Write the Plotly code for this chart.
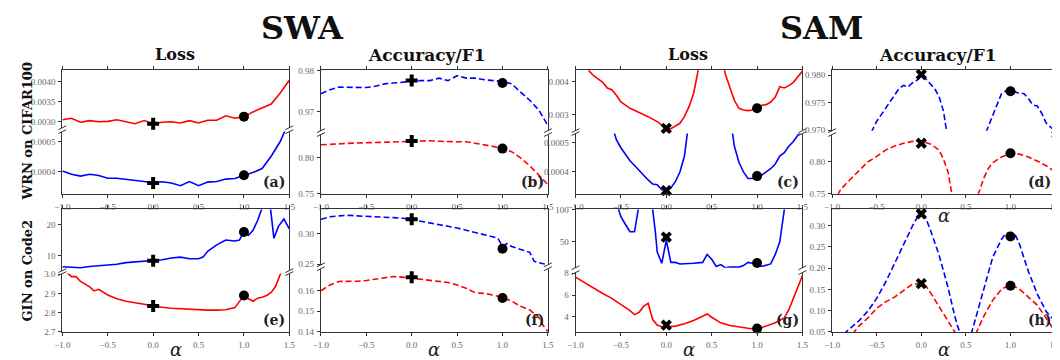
import plotly.graph_objects as go

# ---------------- data ----------------
X_TICKS = [-1.0, -0.5, 0.0, 0.5, 1.0, 1.5]
X_TICK_LABELS = ["\u22121.0", "\u22120.5", "0.0", "0.5", "1.0", "1.5"]

GRID10 = [-1.0, -0.9, -0.8, -0.7, -0.6, -0.5, -0.4, -0.3, -0.2, -0.1, 0.0, 0.1, 0.2,
          0.3, 0.4, 0.5, 0.6, 0.7, 0.8, 0.9, 1.0, 1.1, 1.2, 1.3, 1.4, 1.5]

# (a) SWA loss, WRN/CIFAR100
A_RED = [0.00304, 0.00308, 0.00298, 0.00302, 0.00299, 0.00300, 0.00304, 0.00299, 0.00294, 0.00302,
         0.00294, 0.00298, 0.00299, 0.00296, 0.00302, 0.00296, 0.00303, 0.00303, 0.00314, 0.00308,
         0.00312, 0.00324, 0.00334, 0.00344, 0.00372, 0.00404]
A_BLUE = [0.000402, 0.000391, 0.000385, 0.000391, 0.000387, 0.000378, 0.000378, 0.000375, 0.000370, 0.000367,
          0.000363, 0.000366, 0.000362, 0.000353, 0.000367, 0.000353, 0.000365, 0.000367, 0.000375, 0.000377,
          0.000388, 0.000397, 0.000410, 0.000451, 0.000500, 0.000570]
A_RED_MARK = [0.00294, 0.00312]
A_BLUE_MARK = [0.000362, 0.000388]

# (b) SWA accuracy, WRN/CIFAR100
B_BLUE = [0.9744, 0.97536, 0.9760, 0.9760, 0.9759, 0.9759, 0.9762, 0.9768, 0.9770, 0.9772,
          0.9774, 0.9776, 0.9776, 0.9782, 0.9776, 0.9788, 0.9782, 0.9782, 0.9778, 0.9776,
          0.9774, 0.9768, 0.9748, 0.9728, 0.9704, 0.9666]
B_RED = [0.8183, 0.8192, 0.8200, 0.8205, 0.8209, 0.8211, 0.8213, 0.8218, 0.8222, 0.8226,
         0.8230, 0.8235, 0.8239, 0.8232, 0.8226, 0.8226, 0.8226, 0.8205, 0.8183, 0.8160,
         0.8130, 0.8087, 0.8000, 0.7891, 0.7761, 0.7630]
B_BLUE_MARK = [0.9776, 0.9770]
B_RED_MARK = [0.8235, 0.8130]

# (c) SAM loss, WRN/CIFAR100
C_RED_X = [-0.87, -0.85, -0.8, -0.75, -0.7, -0.65, -0.6, -0.55, -0.5, -0.4, -0.3, -0.2, -0.1, -0.05,
           0.0, 0.05, 0.1, 0.15, 0.2, 0.25, 0.3, 0.35, 0.37, None,
           0.62, 0.65, 0.7, 0.75, 0.8, 0.85, 0.9, 0.95, 1.0, 1.05, 1.1, 1.15, 1.2, 1.25, 1.3, 1.35,
           1.4, 1.45, 1.5]
C_RED = [0.00445, 0.00432, 0.00418, 0.00408, 0.00398, 0.00381, 0.00376, 0.00359, 0.00339, 0.00320,
         0.00308, 0.00295, 0.00280, 0.00271, 0.00260, 0.00259, 0.00266, 0.00275, 0.00295, 0.00325,
         0.00364, 0.00432, 0.00460, None,
         0.00460, 0.00423, 0.00383, 0.00344, 0.00320, 0.00315, 0.00313, 0.00315, 0.00320, 0.00329,
         0.00331, 0.00339, 0.00354, 0.00385, 0.00381, 0.00388, 0.00398, 0.00415, 0.00432]
C_BLUE_X = [-0.58, -0.55, -0.5, -0.45, -0.4, -0.35, -0.3, -0.25, -0.2, -0.15, -0.1, -0.05, 0.0,
            0.05, 0.1, 0.15, 0.2, 0.24, None,
            0.72, 0.75, 0.8, 0.85, 0.9, 0.95, 1.0, 1.05, 1.1, 1.15, 1.2, 1.25, 1.3, 1.35, 1.4,
            1.45, 1.5]
C_BLUE = [0.000540, 0.000509, 0.000482, 0.000460, 0.000438, 0.000422, 0.000405, 0.000391, 0.000373,
          0.000359, 0.000357, 0.000340, 0.000340, 0.000346, 0.000367, 0.000400, 0.000454, 0.000550, None,
          0.000550, 0.000487, 0.000433, 0.000400, 0.000378, 0.000378, 0.000387, 0.000389, 0.000400,
          0.000411, 0.000427, 0.000454, 0.000465, 0.000487, 0.000503, 0.000525, 0.000540]
C_RED_MARK = [0.00260, 0.00320]
C_BLUE_MARK = [0.000337, 0.000386]

# (d) SAM accuracy, WRN/CIFAR100
D_BLUE_X = [-0.56, -0.5, -0.45, -0.4, -0.35, -0.3, -0.25, -0.2, -0.15, -0.1, -0.05, 0.0, 0.05, 0.1,
            0.15, 0.2, 0.25, 0.285, None,
            0.725, 0.8, 0.85, 0.9, 0.95, 1.0, 1.05, 1.1, 1.15, 1.2, 1.25, 1.3, 1.35, 1.4, 1.45, 1.5]
D_BLUE = [0.9696, 0.97159, 0.97278, 0.97398, 0.97518, 0.97638, 0.97757, 0.97817, 0.97787, 0.97859,
          0.97907, 0.97997, 0.97937, 0.97847, 0.97757, 0.97608, 0.97338, 0.9696, None,
          0.9696, 0.97278, 0.97488, 0.97668, 0.97716, 0.97710, 0.97698, 0.97668, 0.97668, 0.97578,
          0.97458, 0.97440, 0.97308, 0.97129, 0.97057, 0.96980]
D_RED_X = [-0.94, -0.9, -0.8, -0.7, -0.6, -0.5, -0.4, -0.3, -0.2, -0.1, 0.0, 0.1, 0.2, 0.25, 0.3,
           0.345, None,
           0.635, 0.7, 0.75, 0.8, 0.9, 1.0, 1.1, 1.2, 1.3, 1.4, 1.5]
D_RED = [0.748, 0.7574, 0.7721, 0.7868, 0.8000, 0.8088, 0.8186, 0.8250, 0.8294, 0.8324, 0.8324,
         0.8284, 0.8186, 0.8039, 0.7843, 0.748, None,
         0.748, 0.7745, 0.7892, 0.7990, 0.8078, 0.8137, 0.8123, 0.8078, 0.8015, 0.7941, 0.7843]
D_BLUE_MARK = [0.98015, 0.9771]
D_RED_MARK = [0.8294, 0.8137]

# (e) SWA loss, GIN/Code2
E_BLUE_X = [-1.0, -0.9, -0.8, -0.7, -0.6, -0.5, -0.4, -0.3, -0.2, -0.1, 0.0, 0.1, 0.2, 0.3, 0.4,
            0.5, 0.55, 0.6, 0.7, 0.8, 0.9, 0.95, 1.0, 1.05, 1.1, 1.15, 1.2, 1.25, 1.29, 1.33, 1.38,
            1.44, 1.5]
E_BLUE = [6.32, 6.10, 6.00, 6.42, 6.63, 6.84, 7.16, 7.68, 7.90, 8.10, 8.32, 8.63, 9.16, 9.47, 8.95,
          8.95, 9.47, 11.37, 13.47, 15.05, 14.74, 15.05, 17.68, 16.60, 18.20, 21.40, 25.50, 32.0,
          26.0, 15.60, 19.50, 21.90, 18.70]
E_RED_X = [-1.0, -0.93, -0.9, -0.85, -0.8, -0.7, -0.65, -0.6, -0.55, -0.5, -0.4, -0.3, -0.2, -0.1,
           0.0, 0.1, 0.2, 0.3, 0.4, 0.5, 0.6, 0.7, 0.8, 0.9, 0.95, 1.0, 1.05, 1.1, 1.15, 1.2, 1.25,
           1.3, 1.35, 1.4, 1.45]
E_RED = [3.03, 3.00, 2.987, 2.987, 2.962, 2.934, 2.913, 2.921, 2.905, 2.892, 2.872, 2.859, 2.851,
         2.843, 2.834, 2.828, 2.823, 2.820, 2.816, 2.813, 2.813, 2.813, 2.815, 2.826, 2.856, 2.889,
         2.872, 2.859, 2.875, 2.880, 2.889, 2.905, 2.938, 3.000, 3.060]
E_BLUE_MARK = [8.32, 17.68]
E_RED_MARK = [2.834, 2.889]

# (f) SWA F1, GIN/Code2
F_BLUE_X = [-1.0, -0.9, -0.8, -0.7, -0.6, -0.5, -0.4, -0.3, -0.2, -0.1, 0.0, 0.1, 0.2, 0.3, 0.4,
            0.5, 0.6, 0.7, 0.8, 0.9, 0.95, 1.0, 1.05, 1.1, 1.2, 1.3, 1.35, 1.4, 1.5]
F_BLUE = [0.3245, 0.3284, 0.3299, 0.3309, 0.3299, 0.3294, 0.3284, 0.3275, 0.3270, 0.3260, 0.3245,
          0.3211, 0.3186, 0.3162, 0.3127, 0.3098, 0.3064, 0.3029, 0.2990, 0.2951, 0.2926, 0.2794,
          0.2843, 0.2794, 0.2745, 0.2696, 0.2549, 0.2524, 0.2490]
F_RED_X = [-1.0, -0.9, -0.8, -0.7, -0.6, -0.5, -0.4, -0.3, -0.2, -0.1, 0.0, 0.1, 0.2, 0.3, 0.4,
           0.5, 0.6, 0.7, 0.8, 0.9, 1.0, 1.1, 1.2, 1.3, 1.4, 1.45, 1.5]
F_RED = [0.1600, 0.1628, 0.1645, 0.1645, 0.1646, 0.1650, 0.1656, 0.1663, 0.1669, 0.1666, 0.1661,
         0.1656, 0.1650, 0.1645, 0.1640, 0.1628, 0.1612, 0.1590, 0.1587, 0.1579, 0.1567, 0.1550,
         0.1524, 0.1507, 0.1471, 0.1430, 0.1402]
F_BLUE_MARK = [0.3245, 0.2755]
F_RED_MARK = [0.1666, 0.1565]

# (g) SAM loss, GIN/Code2
G_BLUE_X = [-0.56, -0.53, -0.5, -0.45, -0.4, -0.35, -0.33, -0.3, -0.2, -0.15, -0.12, -0.1, -0.05,
            0.0, 0.05, 0.1, 0.15, 0.2, 0.3, 0.4, 0.45, 0.5, 0.55, 0.6, 0.65, 0.7, 0.8, 0.85, 0.9,
            0.95, 1.0, 1.05, 1.1, 1.15, 1.2, 1.25, 1.3, 1.35]
G_BLUE = [115, 100, 89.2, 77, 65.7, 65.7, 89, 108, 130, 100, 64.7, 34.3, 16.7, 52.5, 18.1, 18.1,
          15.7, 15.7, 16.7, 18.1, 30.4, 23, 11.8, 14.7, 9.8, 10.8, 10.8, 13.2, 18.1, 16.7, 15.7,
          11.8, 13.2, 15.7, 30.4, 50, 100, 130]
G_RED_X = [-1.0, -0.9, -0.8, -0.7, -0.6, -0.5, -0.4, -0.35, -0.3, -0.25, -0.2, -0.18, -0.15, -0.1,
           -0.05, 0.0, 0.1, 0.2, 0.3, 0.4, 0.45, 0.5, 0.6, 0.7, 0.8, 0.9, 1.0, 1.1, 1.2, 1.3, 1.35,
           1.4, 1.45, 1.5]
G_RED = [7.64, 7.13, 6.60, 6.15, 5.70, 5.16, 4.57, 4.21, 4.42, 4.96, 5.25, 4.66, 3.76, 3.25, 3.10,
         3.10, 3.16, 3.37, 3.67, 4.06, 4.27, 3.97, 3.46, 3.22, 3.07, 2.96, 2.87, 3.16, 3.46, 3.91,
         4.66, 5.70, 6.75, 7.79]
G_BLUE_MARK = [57.4, 17.2]
G_RED_MARK = [3.25, 2.93]

# (h) SAM F1, GIN/Code2
H_BLUE_X = [-0.87, -0.8, -0.7, -0.6, -0.5, -0.4, -0.3, -0.2, -0.1, -0.05, 0.0, 0.05, 0.1, 0.2, 0.3,
            0.35, 0.4, 0.44, None,
            0.56, 0.6, 0.65, 0.7, 0.8, 0.9, 0.95, 1.0, 1.05, 1.1, 1.2, 1.3, 1.4, 1.5]
H_BLUE = [0.045, 0.0569, 0.0758, 0.0985, 0.1288, 0.1667, 0.2114, 0.2530, 0.2985, 0.3174, 0.3250,
          0.3174, 0.2909, 0.2303, 0.1545, 0.1091, 0.0674, 0.045, None,
          0.045, 0.0750, 0.1150, 0.1550, 0.2250, 0.2680, 0.2818, 0.2833, 0.2795, 0.2568, 0.1924,
          0.1394, 0.0977, 0.0750]
H_RED_X = [-0.77, -0.7, -0.6, -0.5, -0.4, -0.3, -0.2, -0.1, 0.0, 0.05, 0.1, 0.2, 0.3, 0.39, None,
           0.61, 0.7, 0.8, 0.9, 1.0, 1.1, 1.2, 1.3, 1.4, 1.5]
H_RED = [0.045, 0.0636, 0.0826, 0.1053, 0.1205, 0.1318, 0.1470, 0.1621, 0.1636, 0.1583, 0.1432,
         0.1091, 0.0758, 0.045, None,
         0.045, 0.0864, 0.1242, 0.1508, 0.1606, 0.1508, 0.1318, 0.1129, 0.0826, 0.0500]
H_BLUE_MARK = [0.3273, 0.2742]
H_RED_MARK = [0.1636, 0.1583]

MARK_X = [0.0, 1.0]

# y tick values / labels per sub-panel
YT = {
    "a_top": ([0.0030, 0.0035, 0.0040], ["0.0030", "0.0035", "0.0040"]),
    "a_bot": ([0.0004, 0.0005], ["0.0004", "0.0005"]),
    "b_top": ([0.97, 0.98], ["0.97", "0.98"]),
    "b_bot": ([0.75, 0.80], ["0.75", "0.80"]),
    "c_top": ([0.003, 0.004], ["0.003", "0.004"]),
    "c_bot": ([0.0004, 0.0005], ["0.0004", "0.0005"]),
    "d_top": ([0.970, 0.975, 0.980], ["0.970", "0.975", "0.980"]),
    "d_bot": ([0.75, 0.80], ["0.75", "0.80"]),
    "e_top": ([10, 20], ["10", "20"]),
    "e_bot": ([2.7, 2.8, 2.9, 3.0], ["2.7", "2.8", "2.9", "3.0"]),
    "f_top": ([0.25, 0.30], ["0.25", "0.30"]),
    "f_bot": ([0.14, 0.15, 0.16], ["0.14", "0.15", "0.16"]),
    "g_top": ([50, 100], ["50", "100"]),
    "g_bot": ([4, 6, 8], ["4", "6", "8"]),
    "h": ([0.05, 0.10, 0.15, 0.20, 0.25, 0.30], ["0.05", "0.10", "0.15", "0.20", "0.25", "0.30"]),
}

# ---------------- styling / layout ----------------
W, H = 1060, 360
RED, BLUE, FRAME, TICKC = "#ff0000", "#0000ff", "#333333", "#666666"
SERIF = "Liberation Serif"
BOLD = "DejaVu Serif"
DASH = "6px,3px"
LW = 1.6

COLS = [(47, 277), (309, 539), (567, 797), (827, 1053)]


def pxx(x):
    return x / W


def pyy(y):
    return 1 - y / H


# each panel: column, label, list of subs (role, ypix, yrange, tick key, lines, markers)
PANELS = [
    dict(col=0, label="(a)", subs=[
        ("top", (59, 118), [0.00284, 0.00429], "a_top",
         [(GRID10, A_RED, RED, "solid")], [(A_RED_MARK, ["cross", "circle"])]),
        ("bot", (122, 186), [0.000326, 0.000533], "a_bot",
         [(GRID10, A_BLUE, BLUE, "solid")], [(A_BLUE_MARK, ["cross", "circle"])]),
    ]),
    dict(col=1, label="(b)", subs=[
        ("top", (59, 121), [0.96536, 0.9801], "b_top",
         [(GRID10, B_BLUE, BLUE, DASH)], [(B_BLUE_MARK, ["cross", "circle"])]),
        ("bot", (125, 186), [0.75, 0.8326], "b_bot",
         [(GRID10, B_RED, RED, DASH)], [(B_RED_MARK, ["cross", "circle"])]),
    ]),
    dict(col=2, label="(c)", subs=[
        ("top", (59, 121), [0.00253, 0.00434], "c_top",
         [(C_RED_X, C_RED, RED, "solid")], [(C_RED_MARK, ["x", "circle"])]),
        ("bot", (124, 186), [0.000326, 0.00053], "c_bot",
         [(C_BLUE_X, C_BLUE, BLUE, "solid")], [(C_BLUE_MARK, ["x", "circle"])]),
    ]),
    dict(col=3, label="(d)", subs=[
        ("top", (59, 121), [0.9699, 0.9809], "d_top",
         [(D_BLUE_X, D_BLUE, BLUE, DASH)], [(D_BLUE_MARK, ["x", "circle"])]),
        ("bot", (125, 186), [0.75, 0.8431], "d_bot",
         [(D_RED_X, D_RED, RED, DASH)], [(D_RED_MARK, ["x", "circle"])]),
    ]),
    dict(col=0, label="(e)", subs=[
        ("top", (202, 265), [5.05, 25.05], "e_top",
         [(E_BLUE_X, E_BLUE, BLUE, "solid")], [(E_BLUE_MARK, ["cross", "circle"])]),
        ("bot", (268, 328), [2.7, 3.003], "e_bot",
         [(E_RED_X, E_RED, RED, "solid")], [(E_RED_MARK, ["cross", "circle"])]),
    ]),
    dict(col=1, label="(f)", subs=[
        ("top", (202, 259), [0.249, 0.3407], "f_top",
         [(F_BLUE_X, F_BLUE, BLUE, DASH)], [(F_BLUE_MARK, ["cross", "circle"])]),
        ("bot", (263, 328), [0.14, 0.1707], "f_bot",
         [(F_RED_X, F_RED, RED, DASH)], [(F_RED_MARK, ["cross", "circle"])]),
    ]),
    dict(col=2, label="(g)", subs=[
        ("top", (202, 262), [9.8, 100.5], "g_top",
         [(G_BLUE_X, G_BLUE, BLUE, "solid")], [(G_BLUE_MARK, ["x", "circle"])]),
        ("bot", (267, 328), [2.63, 8.06], "g_bot",
         [(G_RED_X, G_RED, RED, "solid")], [(G_RED_MARK, ["x", "circle"])]),
    ]),
    dict(col=3, label="(h)", subs=[
        ("single", (202, 328), [0.05, 0.338], "h",
         [(H_BLUE_X, H_BLUE, BLUE, DASH), (H_RED_X, H_RED, RED, DASH)],
         [(H_BLUE_MARK, ["x", "circle"]), (H_RED_MARK, ["x", "circle"])]),
    ]),
]

fig = go.Figure()
layout = {}
shapes = []
annotations = []
tickfont = dict(family=SERIF, size=9, color=TICKC)

idx = 0
for p in PANELS:
    x0, x1 = COLS[p["col"]]
    for role, (ytop, ybot), yr, tk, lines, marks in p["subs"]:
        idx += 1
        sfx = "" if idx == 1 else str(idx)
        layout["xaxis" + sfx] = dict(
            domain=[pxx(x0), pxx(x1)], range=[-1.0, 1.5], anchor="y" + sfx,
            side="top" if role == "top" else "bottom",
            showticklabels=(role != "top"), tickvals=X_TICKS, ticktext=X_TICK_LABELS,
            ticks="outside", ticklen=3, tickcolor=FRAME, showline=True, linecolor=FRAME,
            linewidth=1, mirror=(role == "single"), showgrid=False, zeroline=False,
            tickfont=tickfont, ticklabelstandoff=1,
        )
        tv, tt = YT[tk]
        layout["yaxis" + sfx] = dict(
            domain=[pyy(ybot), pyy(ytop)], range=yr, anchor="x" + sfx,
            tickvals=tv, ticktext=tt, ticks="outside", ticklen=3, tickcolor=FRAME,
            showline=True, linecolor=FRAME, linewidth=1, mirror=True,
            showgrid=False, zeroline=False, tickfont=tickfont, ticklabelstandoff=1,
        )
        for xs, ys, color, dash in lines:
            fig.add_trace(go.Scatter(x=xs, y=ys, mode="lines", xaxis="x" + sfx, yaxis="y" + sfx,
                                     line=dict(color=color, width=LW, dash=dash),
                                     connectgaps=False, showlegend=False, hoverinfo="skip"))
        for ys, syms in marks:
            fig.add_trace(go.Scatter(x=MARK_X, y=ys, mode="markers", xaxis="x" + sfx,
                                     yaxis="y" + sfx, cliponaxis=False,
                                     marker=dict(color="black", size=10, symbol=syms,
                                                 line=dict(width=0)),
                                     showlegend=False, hoverinfo="skip"))
    # break marks
    if len(p["subs"]) == 2:
        yb = p["subs"][0][1][1]
        yt = p["subs"][1][1][0]
        for xe in (x0, x1):
            for ye in (yb, yt):
                shapes.append(dict(type="line", xref="paper", yref="paper",
                                   x0=pxx(xe - 4), y0=pyy(ye + 2), x1=pxx(xe + 4), y1=pyy(ye - 2),
                                   line=dict(color=FRAME, width=1)))
    # panel label
    ybottom = p["subs"][-1][1][1]
    annotations.append(dict(text="<b>" + p["label"] + "</b>", xref="paper", yref="paper",
                            x=pxx(x1 - 2), y=pyy(ybottom - 2), xanchor="right", yanchor="bottom",
                            showarrow=False, font=dict(family=BOLD, size=14, color="#222")))

# titles
TITLES = [("SWA", 290, 15, 32), ("SAM", 816, 15, 32),
          ("Loss", 161, 43, 16), ("Accuracy/F1", 417, 43, 17),
          ("Loss", 681, 43, 16), ("Accuracy/F1", 934, 43, 17)]
for t, x, y, s in TITLES:
    annotations.append(dict(text="<b>" + t + "</b>", xref="paper", yref="paper", x=pxx(x), y=pyy(y),
                            xanchor="center", yanchor="middle", showarrow=False,
                            font=dict(family=BOLD, size=s, color="#111")))
ROWS = [("WRN on CIFAR100", 122), ("GIN on Code2", 265)]
for t, y in ROWS:
    annotations.append(dict(text="<b>" + t + "</b>", xref="paper", yref="paper", x=pxx(12),
                            y=pyy(y), xanchor="center", yanchor="middle", textangle=-90,
                            showarrow=False, font=dict(family=BOLD, size=13, color="#111")))
ALPHAS = [(162, 346), (424, 346), (682, 346), (940, 346), (940, 208)]
for x, y in ALPHAS:
    annotations.append(dict(text="<i>\u03b1</i>", xref="paper", yref="paper", x=pxx(x), y=pyy(y),
                            xanchor="center", yanchor="middle", showarrow=False,
                            font=dict(family="DejaVu Serif", size=18, color="#222")))

fig.update_layout(width=W, height=H, margin=dict(l=0, r=0, t=0, b=0),
                  paper_bgcolor="white", plot_bgcolor="white",
                  shapes=shapes, annotations=annotations, **layout)
fig.write_html("out.html")
